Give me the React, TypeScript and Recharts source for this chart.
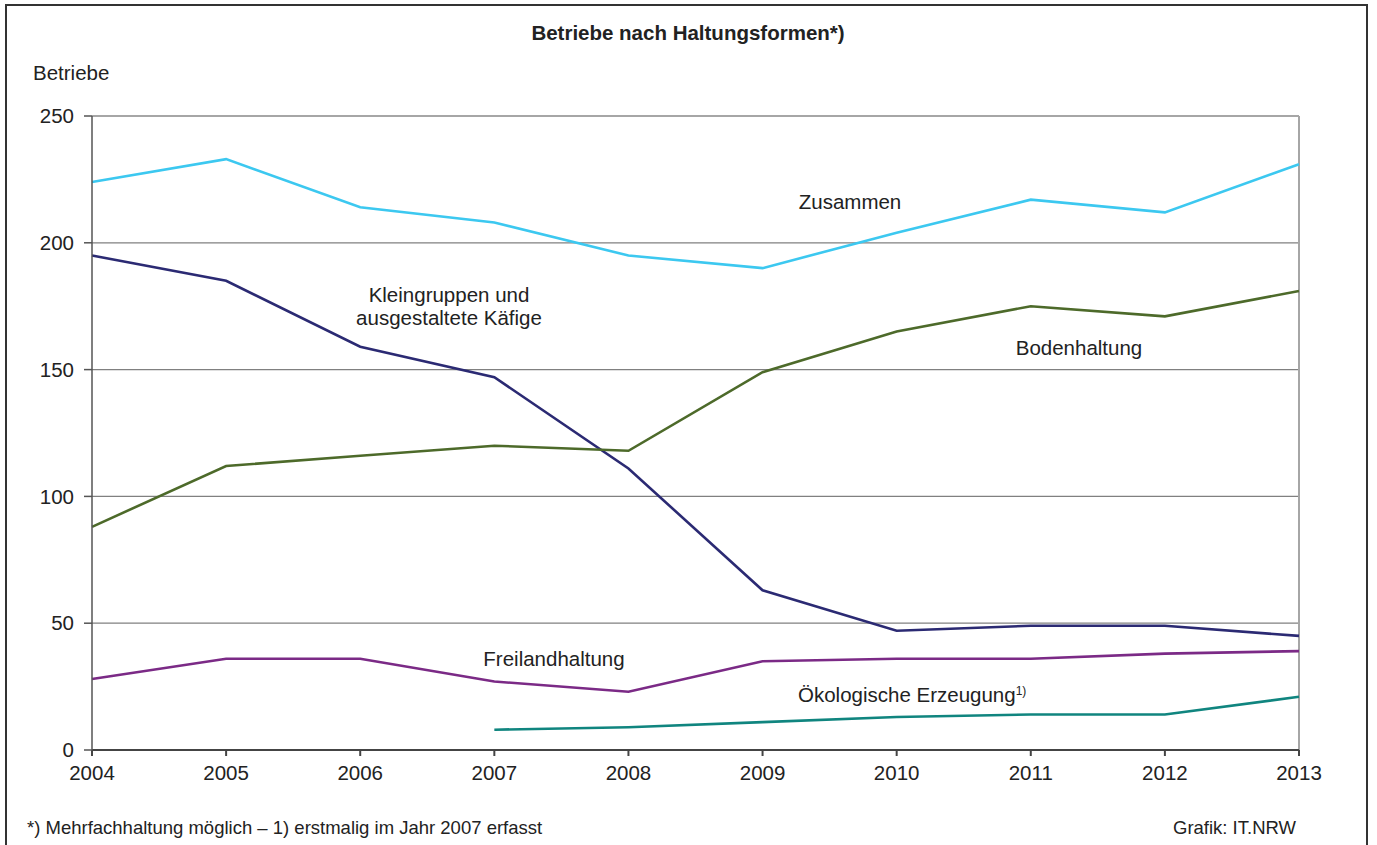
import { CartesianGrid, Line, LineChart, ReferenceLine, XAxis, YAxis } from "recharts";

const years = [2004, 2005, 2006, 2007, 2008, 2009, 2010, 2011, 2012, 2013];
const zusammen = [224, 233, 214, 208, 195, 190, 204, 217, 212, 231];
const kleingruppen = [195, 185, 159, 147, 111, 63, 47, 49, 49, 45];
const bodenhaltung = [88, 112, 116, 120, 118, 149, 165, 175, 171, 181];
const freiland = [28, 36, 36, 27, 23, 35, 36, 36, 38, 39];
const oekologisch = [null, null, null, 8, 9, 11, 13, 14, 14, 21];
const yTicks = [0, 50, 100, 150, 200, 250];

const data = years.map((year, i) => ({
  year,
  zusammen: zusammen[i],
  kleingruppen: kleingruppen[i],
  bodenhaltung: bodenhaltung[i],
  freiland: freiland[i],
  oekologisch: oekologisch[i],
}));

const FONT = '"Liberation Sans", Arial, sans-serif';

function Note({ x, y, children, align = "left", size = 20.5, bold = false }: any) {
  const shift = align === "center" ? "translateX(-50%)" : align === "right" ? "translateX(-100%)" : "none";
  return (
    <div
      style={{
        position: "absolute",
        left: x,
        top: y,
        transform: shift,
        fontSize: size,
        fontWeight: bold ? "bold" : "normal",
        color: "#222",
        whiteSpace: "nowrap",
        textAlign: align,
        lineHeight: "23px",
      }}
    >
      {children}
    </div>
  );
}

export default function App() {
  return (
    <div
      style={{
        position: "absolute",
        left: 0,
        top: 0,
        width: 1377,
        height: 845,
        background: "#fff",
        fontFamily: FONT,
        overflow: "hidden",
      }}
    >
      <div
        style={{
          position: "absolute",
          left: 5,
          top: 4,
          width: 1359,
          height: 850,
          border: "2px solid #333",
        }}
      />
      <LineChart
        width={1377}
        height={845}
        data={data}
        margin={{ top: 116, right: 78, left: 0, bottom: 65 }}
      >
        <CartesianGrid vertical={false} stroke="#808080" strokeWidth={1.2} />
        <XAxis
          dataKey="year"
          type="number"
          domain={[2004, 2013]}
          ticks={years}
          height={30}
          stroke="#444"
          strokeWidth={2}
          tickSize={6}
          tickMargin={9}
          tick={{ fill: "#222", fontSize: 20.5, fontFamily: FONT }}
        />
        <YAxis
          domain={[0, 250]}
          ticks={yTicks}
          width={92}
          stroke="#555"
          strokeWidth={1.5}
          tickSize={8}
          tickMargin={10}
          tick={{ fill: "#222", fontSize: 20.5, fontFamily: FONT }}
        />
        <ReferenceLine x={2013} stroke="#a6a6a6" strokeWidth={2} />
        <ReferenceLine y={250} stroke="#a6a6a6" strokeWidth={2} />
        <Line dataKey="zusammen" stroke="#3cc8f0" strokeWidth={2.6} dot={false} isAnimationActive={false} />
        <Line dataKey="kleingruppen" stroke="#2b2a73" strokeWidth={2.6} dot={false} isAnimationActive={false} />
        <Line dataKey="bodenhaltung" stroke="#4d6a2a" strokeWidth={2.6} dot={false} isAnimationActive={false} />
        <Line dataKey="freiland" stroke="#7b2a86" strokeWidth={2.6} dot={false} isAnimationActive={false} />
        <Line dataKey="oekologisch" stroke="#10857f" strokeWidth={2.6} dot={false} isAnimationActive={false} />
      </LineChart>
      <Note x={688} y={21} align="center" size={20.5} bold>
        Betriebe nach Haltungsformen*)
      </Note>
      <Note x={33} y={61}>Betriebe</Note>
      <Note x={850} y={190} align="center">Zusammen</Note>
      <Note x={449} y={283} align="center">
        Kleingruppen und
        <br />
        ausgestaltete Käfige
      </Note>
      <Note x={1079} y={336} align="center">Bodenhaltung</Note>
      <Note x={554} y={647} align="center">Freilandhaltung</Note>
      <Note x={798} y={683}>
        Ökologische Erzeugung<sup style={{ fontSize: 12, verticalAlign: "top", lineHeight: "16px" }}>1)</sup>
      </Note>
      <Note x={27} y={816} size={18.5}>
        *) Mehrfachhaltung möglich – 1) erstmalig im Jahr 2007 erfasst
      </Note>
      <Note x={1296} y={816} align="right" size={18.5}>
        Grafik: IT.NRW
      </Note>
    </div>
  );
}
